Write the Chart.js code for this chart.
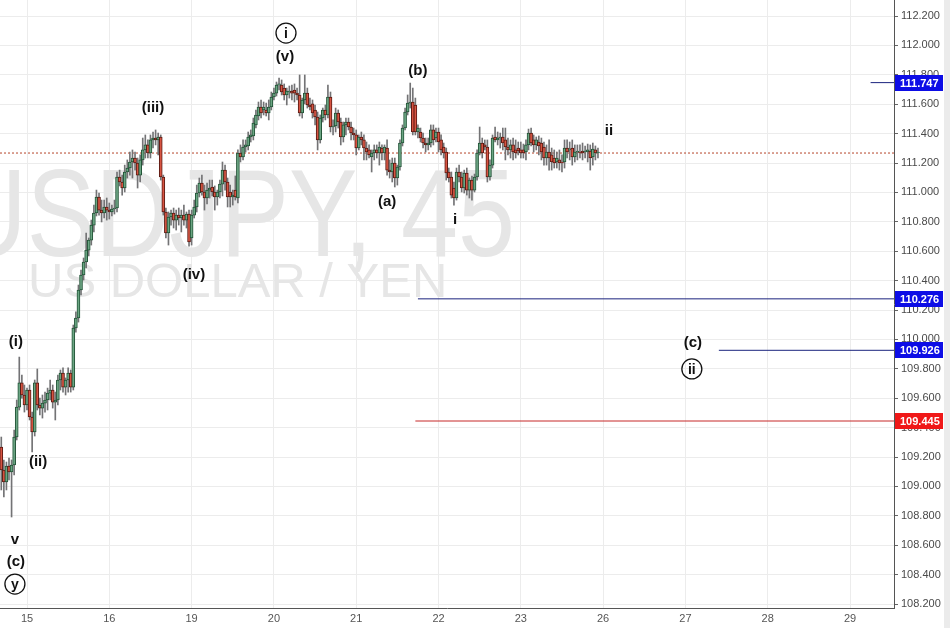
<!DOCTYPE html>
<html>
<head>
<meta charset="utf-8">
<script src="https://cdn.jsdelivr.net/npm/chart.js@4.4.0/dist/chart.umd.min.js"></script>
<style>
  html, body { margin: 0; padding: 0; background: #fff; }
  #wrap { position: relative; width: 950px; height: 628px; }
</style>
</head>
<body>
<div id="wrap"><canvas id="chart" width="950" height="628"></canvas></div>
<script>
// USDJPY 45 min candles (index 0 = first visible bar)
var dayLabels = ['15', '16', '19', '20', '21', '22', '23', '26', '27', '28', '29'];
var dayStarts = [10, 42, 74, 106, 138, 170, 202, 234, 266, 298, 330];
var priceTicks = [108.2, 108.4, 108.6, 108.8, 109.0, 109.2, 109.4, 109.6, 109.8, 110.0,
  110.2, 110.4, 110.6, 110.8, 111.0, 111.2, 111.4, 111.6, 111.8, 112.0, 112.2];

var openP = [
  109.268,109.112,109.030,109.139,109.098,109.146,109.336,109.540,109.704,109.622,
  109.554,109.656,109.472,109.370,109.704,109.554,109.533,109.567,109.588,109.635,
  109.656,109.574,109.588,109.724,109.771,109.676,109.724,109.771,109.676,110.078,
  110.146,110.336,110.438,110.527,110.608,110.676,110.778,110.860,110.969,110.880,
  110.860,110.901,110.880,110.867,110.887,110.894,111.105,111.071,111.030,111.139,
  111.166,111.207,111.234,111.200,111.118,111.221,111.289,111.323,111.268,111.357,
  111.370,111.357,111.377,111.105,110.867,110.724,110.833,110.860,110.812,110.846,
  110.826,110.846,110.812,110.853,110.690,110.846,110.901,110.996,111.064,111.003,
  110.962,111.016,111.037,111.003,110.969,111.003,111.057,111.152,111.071,111.003,
  110.969,111.016,110.962,111.268,111.241,111.309,111.316,111.377,111.384,111.459,
  111.520,111.581,111.561,111.561,111.540,111.581,111.649,111.676,111.731,111.731,
  111.710,111.663,111.683,111.690,111.697,111.676,111.663,111.540,111.629,111.676,
  111.595,111.602,111.561,111.513,111.357,111.506,111.561,111.527,111.649,111.445,
  111.452,111.540,111.479,111.377,111.459,111.479,111.445,111.404,111.391,111.302,
  111.377,111.357,111.302,111.289,111.241,111.268,111.289,111.268,111.302,111.268,
  111.302,111.152,111.139,111.200,111.098,111.173,111.336,111.438,111.547,111.608,
  111.615,111.595,111.411,111.411,111.370,111.336,111.323,111.336,111.425,111.370,
  111.411,111.357,111.309,111.275,111.139,111.105,111.030,110.962,111.139,111.105,
  111.030,111.132,111.016,111.084,111.016,111.105,111.268,111.336,111.323,111.309,
  111.105,111.186,111.377,111.357,111.370,111.377,111.357,111.309,111.289,111.323,
  111.289,111.302,111.289,111.289,111.275,111.323,111.404,111.357,111.323,111.343,
  111.336,111.309,111.234,111.275,111.255,111.234,111.207,111.221,111.207,111.207,
  111.302,111.289,111.302,111.241,111.275,111.275,111.282,111.275,111.275,111.282,
  111.241,111.289,111.268
];
var highP = [
  109.336,109.180,109.166,109.193,109.180,109.384,109.588,109.880,109.758,109.690,
  109.669,109.690,109.506,109.724,109.799,109.601,109.622,109.642,109.669,109.724,
  109.690,109.642,109.758,109.792,109.806,109.738,109.806,109.792,110.098,110.187,
  110.370,110.472,110.554,110.724,110.690,110.812,110.914,111.016,110.996,110.948,
  110.948,110.962,110.928,110.914,110.948,111.139,111.152,111.118,111.186,111.221,
  111.275,111.289,111.275,111.234,111.255,111.370,111.391,111.357,111.391,111.411,
  111.425,111.404,111.391,111.118,110.894,110.867,110.880,110.894,110.880,110.894,
  110.880,110.914,110.867,110.880,110.880,110.948,111.050,111.098,111.118,111.050,
  111.064,111.084,111.084,111.044,111.016,111.084,111.207,111.186,111.098,111.050,
  111.016,111.112,111.289,111.323,111.357,111.357,111.411,111.425,111.506,111.561,
  111.615,111.629,111.615,111.608,111.629,111.683,111.710,111.751,111.778,111.765,
  111.738,111.710,111.724,111.731,111.738,111.710,111.799,111.642,111.799,111.710,
  111.642,111.629,111.595,111.547,111.527,111.574,111.595,111.731,111.683,111.493,
  111.574,111.561,111.506,111.479,111.506,111.506,111.479,111.438,111.425,111.391,
  111.411,111.391,111.343,111.323,111.289,111.323,111.323,111.343,111.323,111.323,
  111.357,111.221,111.234,111.234,111.186,111.357,111.459,111.574,111.663,111.744,
  111.710,111.642,111.459,111.438,111.404,111.370,111.370,111.459,111.459,111.438,
  111.438,111.391,111.336,111.302,111.166,111.139,111.071,111.166,111.186,111.139,
  111.152,111.166,111.098,111.112,111.125,111.289,111.445,111.370,111.357,111.357,
  111.221,111.391,111.445,111.411,111.404,111.438,111.438,111.370,111.357,111.370,
  111.357,111.343,111.343,111.329,111.357,111.431,111.438,111.391,111.377,111.384,
  111.370,111.343,111.323,111.357,111.302,111.289,111.275,111.289,111.255,111.357,
  111.357,111.343,111.357,111.323,111.323,111.323,111.336,111.316,111.329,111.323,
  111.336,111.316,111.302
];
var lowP = [
  108.976,108.928,108.976,109.044,108.792,109.078,109.316,109.520,109.601,109.506,
  109.520,109.452,109.234,109.343,109.520,109.486,109.465,109.506,109.520,109.588,
  109.533,109.452,109.554,109.656,109.642,109.622,109.642,109.642,109.656,110.050,
  110.118,110.302,110.404,110.486,110.568,110.642,110.731,110.840,110.846,110.799,
  110.826,110.812,110.819,110.840,110.853,110.867,111.044,110.982,111.003,111.098,
  111.118,111.098,111.152,111.030,111.071,111.186,111.234,111.234,111.234,111.302,
  111.323,111.255,111.084,110.846,110.690,110.642,110.778,110.758,110.744,110.778,
  110.731,110.778,110.758,110.635,110.642,110.826,110.867,110.969,110.982,110.880,
  110.921,110.962,110.976,110.880,110.914,110.962,110.976,111.016,110.901,110.901,
  110.914,110.948,110.928,111.207,111.221,111.275,111.289,111.343,111.357,111.438,
  111.493,111.506,111.527,111.520,111.493,111.561,111.629,111.656,111.697,111.663,
  111.629,111.595,111.642,111.629,111.615,111.629,111.520,111.506,111.602,111.574,
  111.561,111.506,111.459,111.289,111.336,111.479,111.493,111.506,111.411,111.391,
  111.411,111.438,111.323,111.343,111.391,111.425,111.357,111.357,111.255,111.289,
  111.323,111.221,111.221,111.234,111.139,111.221,111.234,111.186,111.221,111.221,
  111.118,111.098,111.071,111.037,111.050,111.152,111.316,111.425,111.527,111.574,
  111.391,111.391,111.370,111.343,111.302,111.275,111.289,111.309,111.323,111.343,
  111.275,111.255,111.234,111.084,111.071,110.962,110.914,110.948,111.071,111.003,
  110.996,110.982,110.962,110.948,111.003,111.084,111.255,111.234,111.289,111.071,
  111.084,111.166,111.343,111.323,111.302,111.289,111.221,111.255,111.234,111.221,
  111.234,111.255,111.234,111.234,111.221,111.289,111.316,111.275,111.289,111.255,
  111.221,111.186,111.186,111.152,111.152,111.166,111.166,111.152,111.139,111.166,
  111.234,111.221,111.186,111.207,111.221,111.234,111.221,111.234,111.207,111.152,
  111.186,111.221,111.234
];
var closeP = [
  109.112,109.030,109.139,109.098,109.146,109.336,109.540,109.704,109.622,109.554,
  109.656,109.472,109.370,109.704,109.554,109.533,109.567,109.588,109.635,109.656,
  109.574,109.588,109.724,109.771,109.676,109.724,109.771,109.676,110.078,110.146,
  110.336,110.438,110.527,110.608,110.676,110.778,110.860,110.969,110.880,110.860,
  110.901,110.880,110.867,110.887,110.894,111.105,111.071,111.030,111.139,111.166,
  111.207,111.234,111.200,111.118,111.221,111.289,111.323,111.268,111.357,111.370,
  111.357,111.377,111.105,110.867,110.724,110.833,110.860,110.812,110.846,110.826,
  110.846,110.812,110.853,110.663,110.846,110.901,110.996,111.064,111.003,110.962,
  111.016,111.030,111.003,110.969,111.003,111.057,111.152,111.071,110.969,110.969,
  110.982,110.969,111.268,111.241,111.309,111.323,111.377,111.391,111.472,111.527,
  111.581,111.540,111.581,111.540,111.581,111.649,111.676,111.731,111.738,111.683,
  111.663,111.690,111.690,111.676,111.676,111.663,111.540,111.629,111.676,111.595,
  111.581,111.540,111.513,111.357,111.506,111.561,111.527,111.649,111.445,111.452,
  111.540,111.479,111.377,111.459,111.479,111.445,111.404,111.391,111.302,111.377,
  111.357,111.302,111.275,111.255,111.268,111.289,111.268,111.309,111.268,111.309,
  111.152,111.139,111.200,111.098,111.173,111.336,111.438,111.547,111.608,111.615,
  111.411,111.411,111.438,111.370,111.336,111.323,111.336,111.425,111.357,111.411,
  111.343,111.289,111.268,111.132,111.098,110.982,110.962,111.139,111.105,111.030,
  111.132,111.016,111.084,111.016,111.105,111.268,111.336,111.268,111.309,111.105,
  111.186,111.370,111.357,111.370,111.377,111.336,111.309,111.289,111.323,111.275,
  111.268,111.282,111.268,111.268,111.323,111.404,111.336,111.323,111.357,111.316,
  111.275,111.234,111.275,111.234,111.207,111.200,111.234,111.200,111.200,111.302,
  111.275,111.295,111.241,111.275,111.275,111.268,111.268,111.282,111.289,111.234,
  111.295,111.268,111.275
];

// last price and the drawn levels
var lastPrice = 111.268;
var levelValues = [111.747, 110.276, 109.926, 109.445];
var levelFrom = [338, 162, 279, 161];

// wave count labels (bar index, price)
var waveText = ['(i)', '(ii)', 'v', '(c)', 'y', '(iii)', '(iv)', 'i', '(v)', '(b)', '(a)', 'i', 'ii', '(c)', 'ii'];
var waveX = [5.7, 14.3, 5.3, 5.7, 5.3, 59, 74.9, 110.7, 110.3, 162, 150, 176.4, 236.3, 268.9, 268.5];
var waveY = [109.982, 109.166, 108.635, 108.486, 108.336, 111.574, 110.438, 112.084, 111.921, 111.826, 110.935, 110.812, 111.418, 109.976, 109.799];
var waveCircled = [false, false, false, false, true, false, false, true, false, false, false, false, false, false, true];

var xMin = -0.5, xMax = 347.1;
var FONT = '"Liberation Sans", Arial, sans-serif';
var UP = '#6ba583', DOWN = '#d75442';
var levelColors = ['#1a237e', '#1a237e', '#1a237e', '#c62828'];
var levelBoxColors = ['#0d0de6', '#0d0de6', '#0d0de6', '#f01818'];

var bodies = [], wicks = [], bodyFill = [], bodyLine = [];
for (var i = 0; i < openP.length; i++) {
  bodies.push({ x: i, y: [openP[i], closeP[i]] });
  wicks.push({ x: i, y: [lowP[i], highP[i]] });
  var up = closeP[i] >= openP[i];
  bodyFill.push(up ? UP : DOWN);
  bodyLine.push(up ? '#225437' : '#5b1a13');
}

var datasets = [
  { type: 'bar', data: bodies, backgroundColor: bodyFill, borderColor: bodyLine, borderWidth: 1,
    borderSkipped: false, barThickness: 3, minBarLength: 1, grouped: false, order: 1 },
  { type: 'bar', data: wicks, backgroundColor: '#737375', barThickness: 1, grouped: false, order: 2 },
  { type: 'line', data: [{ x: xMin, y: lastPrice }, { x: xMax, y: lastPrice }], borderColor: '#b5452a',
    borderWidth: 1, borderDash: [2, 2], pointRadius: 0, order: 3 }
];
levelValues.forEach(function (v, k) {
  datasets.push({ type: 'line', data: [{ x: levelFrom[k], y: v }, { x: xMax, y: v }],
    borderColor: levelColors[k], borderWidth: 1, pointRadius: 0, order: 0 });
});

// white page + grey edge
var backdrop = {
  id: 'backdrop',
  beforeDraw: function (chart) {
    var c = chart.ctx;
    c.save();
    c.fillStyle = '#fff';
    c.fillRect(0, 0, chart.width, chart.height);
    c.fillStyle = '#ebebeb';
    c.fillRect(944, 0, 6, chart.height);
    c.restore();
  }
};

// big symbol watermark
var watermark = {
  id: 'watermark',
  beforeDatasetsDraw: function (chart) {
    var c = chart.ctx, a = chart.chartArea;
    c.save();
    c.beginPath();
    c.rect(a.left, a.top, a.right - a.left, a.bottom - a.top);
    c.clip();
    c.fillStyle = '#e6e6e6';
    c.textBaseline = 'alphabetic';
    c.save();
    c.translate(515, 256);
    c.scale(0.82, 1);
    c.font = '125px ' + FONT;
    c.textAlign = 'right';
    c.fillText('USDJPY, 45', 0, 0);
    c.restore();
    c.font = '49px ' + FONT;
    c.textAlign = 'left';
    c.fillText('US DOLLAR / YEN', 28, 297);
    c.restore();
  }
};

// wave labels and price boxes on the axis
var labels = {
  id: 'labels',
  afterDraw: function (chart) {
    var c = chart.ctx, xs = chart.scales.x, ys = chart.scales.y;
    c.save();
    c.fillStyle = '#111';
    c.strokeStyle = '#111';
    c.textAlign = 'center';
    c.textBaseline = 'middle';
    for (var k = 0; k < waveText.length; k++) {
      var px = xs.getPixelForValue(waveX[k]), py = ys.getPixelForValue(waveY[k]);
      if (waveCircled[k]) {
        c.lineWidth = 1.3;
        c.beginPath();
        c.arc(px, py, 10, 0, Math.PI * 2);
        c.stroke();
        c.font = 'bold 14px ' + FONT;
        c.fillText(waveText[k], px, py + 1);
      } else {
        c.font = 'bold 15px ' + FONT;
        c.fillText(waveText[k], px, py);
      }
    }
    c.textAlign = 'left';
    c.font = 'bold 11px ' + FONT;
    levelValues.forEach(function (v, k) {
      var py = Math.round(ys.getPixelForValue(v));
      c.fillStyle = levelBoxColors[k];
      c.fillRect(895, py - 8, 48, 16);
      c.fillStyle = '#fff';
      c.fillText(v.toFixed(3), 900, py + 0.5);
    });
    c.restore();
  }
};

var ctx = document.getElementById('chart').getContext('2d');
new Chart(ctx, {
  type: 'bar',
  data: { datasets: datasets },
  options: {
    responsive: false,
    animation: false,
    layout: { padding: 0 },
    plugins: { legend: { display: false }, tooltip: { enabled: false } },
    scales: {
      x: {
        type: 'linear', min: xMin, max: xMax, offset: false,
        grid: { color: '#ececec', offset: false, drawTicks: false },
        border: { color: '#555' },
        afterBuildTicks: function (s) { s.ticks = dayStarts.map(function (v) { return { value: v }; }); },
        ticks: { autoSkip: false, maxRotation: 0, color: '#555', font: { size: 11, family: FONT }, padding: 4,
          callback: function (v, i) { return dayLabels[i]; } },
        afterFit: function (s) { s.height = 20; s.paddingLeft = 0; s.paddingRight = 0; }
      },
      y: {
        position: 'right', min: 108.173, max: 112.309,
        grid: { color: '#ececec', tickLength: 4, tickColor: '#666' },
        border: { color: '#555' },
        afterBuildTicks: function (s) { s.ticks = priceTicks.map(function (v) { return { value: v }; }); },
        ticks: { color: '#4a4a4a', font: { size: 11, family: FONT }, padding: 3,
          callback: function (v) { return v.toFixed(3); } },
        afterFit: function (s) { s.width = 56; s.paddingTop = 0; s.paddingBottom = 0; }
      }
    }
  },
  plugins: [backdrop, watermark, labels]
});
</script>
</body>
</html>
